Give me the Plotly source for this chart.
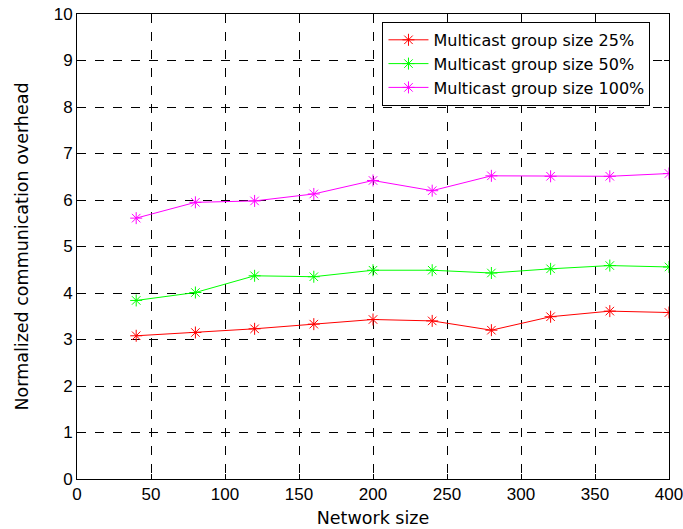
import plotly.graph_objects as go

network_size = [40, 80, 120, 160, 200, 240, 280, 320, 360, 400]
group_25 = [3.08, 3.15, 3.23, 3.33, 3.43, 3.40, 3.20, 3.49, 3.61, 3.58]
group_50 = [3.84, 4.01, 4.37, 4.35, 4.49, 4.49, 4.43, 4.52, 4.59, 4.56]
group_100 = [5.61, 5.95, 5.98, 6.13, 6.42, 6.20, 6.52, 6.51, 6.51, 6.57]

series = [
    ("Multicast group size 25%", group_25, "#ff0000"),
    ("Multicast group size 50%", group_50, "#00ff00"),
    ("Multicast group size 100%", group_100, "#ff00ff"),
]

fig = go.Figure()
for name, vals, col in series:
    fig.add_trace(go.Scatter(
        x=network_size, y=vals, name=name, mode="lines+markers",
        line=dict(color=col, width=1),
        marker=dict(symbol="asterisk-open", size=10, color=col, line=dict(color=col, width=1)),
    ))

tick_font = dict(family="Liberation Sans Narrow, Liberation Sans", size=17, color="black")
title_font = dict(family="DejaVu Sans", size=17.5, color="black")

axis_common = dict(
    showline=True, linecolor="black", linewidth=1, mirror="ticks",
    ticks="inside", ticklen=5, tickcolor="black",
    showgrid=True, gridcolor="black", gridwidth=1, griddash="dash",
    zeroline=False, automargin=False, ticklabeloverflow="allow",
    tickfont=tick_font,
)

fig.update_xaxes(range=[0, 400], dtick=50, tick0=0,
                 title=dict(text="Network size", font=title_font, standoff=8),
                 **axis_common)
fig.update_yaxes(range=[0, 10], dtick=1, tick0=0,
                 title=dict(text="Normalized communication overhead", font=title_font, standoff=20),
                 **axis_common)

fig.update_layout(
    width=683, height=529,
    margin=dict(l=77, r=14, t=14, b=50),
    paper_bgcolor="white", plot_bgcolor="white",
    font=dict(family="DejaVu Sans", size=16, color="black"),
    legend=dict(x=0.516, y=0.983, xanchor="left", yanchor="top",
                bgcolor="white", bordercolor="black", borderwidth=1,
                font=dict(family="DejaVu Sans", size=16, color="black"),
                itemwidth=40, tracegroupgap=0),
    showlegend=True,
)

fig.write_html("out.html")
